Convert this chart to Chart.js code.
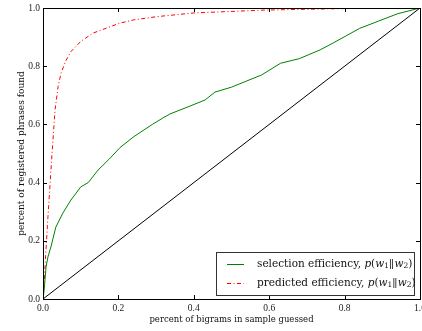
<!DOCTYPE html>
<html lang="en">
<head>
  <meta charset="UTF-8">
  <title>Selection efficiency</title>
  <script src="https://cdn.jsdelivr.net/npm/chart.js"></script>
  <style>
    html, body { margin: 0; padding: 0; background: #fff; }
    #wrap { width: 422px; height: 331px; }
  </style>
</head>
<body>
  <div id="wrap"><canvas id="chart" width="422" height="331"></canvas></div>
  <script>
    // values
    var selX = [0, 0.003, 0.008, 0.013, 0.021, 0.034, 0.053, 0.074, 0.10, 0.12, 0.146, 0.175, 0.204, 0.24, 0.29, 0.318, 0.337, 0.39, 0.43, 0.456, 0.50, 0.58, 0.63, 0.68, 0.735, 0.77, 0.84, 0.89, 0.94, 1.0];
    var selY = [0, 0.03, 0.11, 0.144, 0.179, 0.247, 0.296, 0.34, 0.385, 0.40, 0.443, 0.48, 0.52, 0.557, 0.60, 0.622, 0.636, 0.663, 0.684, 0.711, 0.728, 0.77, 0.81, 0.826, 0.856, 0.88, 0.93, 0.955, 0.98, 1.0];
    var predX = [0, 0.003, 0.008, 0.013, 0.019, 0.024, 0.032, 0.04, 0.048, 0.061, 0.074, 0.10, 0.133, 0.15, 0.204, 0.24, 0.30, 0.40, 0.59, 0.8, 1.0];
    var predY = [0, 0.055, 0.17, 0.28, 0.40, 0.50, 0.65, 0.73, 0.777, 0.82, 0.85, 0.885, 0.914, 0.922, 0.948, 0.959, 0.97, 0.983, 0.993, 0.998, 1.0];
    var diagX = [0, 1];
    var diagY = [0, 1];
    var tickVals = [0, 0.2, 0.4, 0.6, 0.8, 1.0];
    var legendNames = ['selection efficiency, ', 'predicted efficiency, '];

    var serif = "'DejaVu Serif', serif";
    var tickFont = "'Liberation Serif', serif";

    function pts(xs, ys) {
      return xs.map(function (x, i) { return { x: x, y: ys[i] }; });
    }

    // frame, inward ticks on all four sides, and the boxed legend
    var framePlugin = {
      id: 'frame',
      afterDraw: function (chart) {
        var ctx = chart.ctx;
        var a = chart.chartArea;
        var xs = chart.scales.x, ys = chart.scales.y;
        ctx.save();
        ctx.strokeStyle = '#000';
        ctx.lineWidth = 1;
        ctx.strokeRect(Math.round(a.left) + 0.5, Math.round(a.top) + 0.5, Math.round(a.right - a.left), Math.round(a.bottom - a.top));
        ctx.beginPath();
        tickVals.forEach(function (v) {
          var px = Math.round(xs.getPixelForValue(v)) + 0.5;
          var py = Math.round(ys.getPixelForValue(v)) + 0.5;
          ctx.moveTo(px, a.bottom); ctx.lineTo(px, a.bottom - 4);
          ctx.moveTo(px, a.top); ctx.lineTo(px, a.top + 4);
          ctx.moveTo(a.left, py); ctx.lineTo(a.left + 4, py);
          ctx.moveTo(a.right, py); ctx.lineTo(a.right - 4, py);
        });
        ctx.stroke();

        // legend
        var bx = 216.5, by = 252.5, bw = 198, bh = 43;
        ctx.fillStyle = '#fff';
        ctx.fillRect(bx, by, bw, bh);
        ctx.strokeStyle = '#333';
        ctx.strokeRect(bx, by, bw, bh);
        var rows = [
          { y: 264, ds: chart.data.datasets[0] },
          { y: 283, ds: chart.data.datasets[1] }
        ];
        rows.forEach(function (r, i) {
          ctx.save();
          ctx.strokeStyle = r.ds.borderColor;
          ctx.lineWidth = r.ds.borderWidth;
          ctx.setLineDash(r.ds.borderDash || []);
          ctx.beginPath();
          ctx.moveTo(227, r.y + 0.5);
          ctx.lineTo(244, r.y + 0.5);
          ctx.stroke();
          ctx.restore();
          drawMath(ctx, legendNames[i], 257, r.y);
        });
        ctx.restore();
      }
    };

    function drawMath(ctx, text, x, y) {
      var sz = 10.5;
      ctx.fillStyle = '#111';
      ctx.textBaseline = 'middle';
      ctx.textAlign = 'left';
      var parts = [
        [text, sz + 'px ' + serif, 0],
        ['p', 'italic ' + sz + 'px ' + serif, 0],
        ['(', sz + 'px ' + serif, 0],
        ['w', 'italic ' + sz + 'px ' + serif, 0],
        ['1', '7.5px ' + serif, 2.5],
        ['||', sz + 'px ' + serif, 0],
        ['w', 'italic ' + sz + 'px ' + serif, 0],
        ['2', '7.5px ' + serif, 2.5],
        [')', sz + 'px ' + serif, 0]
      ];
      parts.forEach(function (p) {
        ctx.font = p[1];
        if (p[0] === '||') {
          // double bar drawn as two thin strokes
          ctx.save();
          ctx.strokeStyle = '#111';
          ctx.lineWidth = 0.8;
          ctx.beginPath();
          ctx.moveTo(x + 1.5, y - 5); ctx.lineTo(x + 1.5, y + 5);
          ctx.moveTo(x + 3.5, y - 5); ctx.lineTo(x + 3.5, y + 5);
          ctx.stroke();
          ctx.restore();
          x += 5.5;
          return;
        }
        ctx.fillText(p[0], x, y + p[2]);
        x += ctx.measureText(p[0]).width;
      });
    }

    function fixScale(size, horizontal) {
      return function (scale) {
        if (horizontal) scale.height = size; else scale.width = size;
        scale.paddingLeft = 0; scale.paddingRight = 0;
        scale.paddingTop = 0; scale.paddingBottom = 0;
      };
    }

    var ctx = document.getElementById('chart').getContext('2d');
    var chart = new Chart(ctx, {
      type: 'line',
      data: {
        datasets: [
          {
            label: legendNames[0] + 'p(w\u2081\u2016w\u2082)',
            data: pts(selX, selY),
            borderColor: '#008000',
            borderWidth: 1,
            pointRadius: 0
          },
          {
            label: legendNames[1] + 'p(w\u2081\u2016w\u2082)',
            data: pts(predX, predY),
            borderColor: '#ff0000',
            borderWidth: 1,
            borderDash: [4, 2.5, 1, 2.5],
            pointRadius: 0
          },
          {
            label: 'diagonal',
            data: pts(diagX, diagY),
            borderColor: '#000',
            borderWidth: 1,
            pointRadius: 0
          }
        ]
      },
      options: {
        responsive: false,
        animation: false,
        layout: { padding: { top: 8, right: 2, left: 0, bottom: 0 } },
        plugins: {
          legend: { display: false },
          tooltip: { enabled: false }
        },
        elements: { line: { tension: 0 } },
        scales: {
          x: {
            type: 'linear',
            min: 0, max: 1,
            afterFit: fixScale(32, true),
            afterBuildTicks: function (s) { s.ticks = tickVals.map(function (v) { return { value: v }; }); },
            grid: { display: false, drawTicks: false },
            border: { display: false },
            ticks: {
              padding: 4,
              color: '#222',
              font: { family: tickFont, size: 9.5 },
              maxRotation: 0,
              callback: function (v) { return v.toFixed(1); }
            },
            title: {
              display: true,
              text: 'percent of bigrams in sample guessed',
              color: '#111',
              font: { family: serif, size: 8.5 },
              padding: { top: 0, bottom: 6 }
            }
          },
          y: {
            type: 'linear',
            min: 0, max: 1,
            afterFit: fixScale(43, false),
            afterBuildTicks: function (s) { s.ticks = tickVals.map(function (v) { return { value: v }; }); },
            grid: { display: false, drawTicks: false },
            border: { display: false },
            ticks: {
              padding: 3,
              color: '#222',
              font: { family: tickFont, size: 9.5 },
              callback: function (v) { return v.toFixed(1); }
            },
            title: {
              display: true,
              text: 'percent of registered phrases found',
              color: '#111',
              font: { family: serif, size: 9 },
              padding: { top: 16, bottom: 0 }
            }
          }
        }
      },
      plugins: [framePlugin]
    });
  </script>
</body>
</html>
